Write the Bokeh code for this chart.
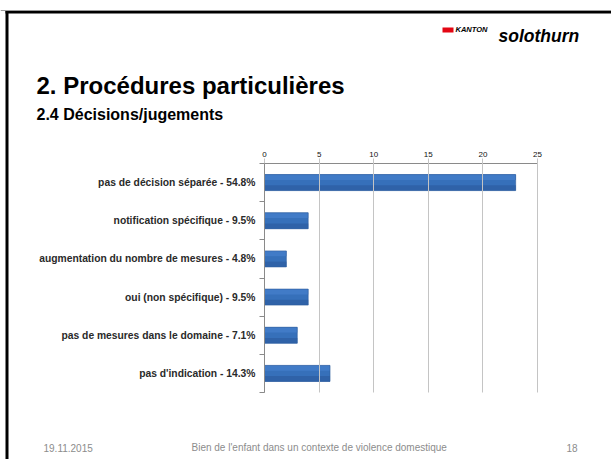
from bokeh.plotting import figure
from bokeh.models import Range1d, FixedTicker, LinearAxis, Label, BoxAnnotation
from bokeh.embed import file_html
from bokeh.resources import INLINE

# ---- data ----
categories = [
    "pas de décision séparée - 54.8%",
    "notification spécifique - 9.5%",
    "augmentation du nombre de mesures - 4.8%",
    "oui (non spécifique) - 9.5%",
    "pas de mesures dans le domaine - 7.1%",
    "pas d'indication - 14.3%",
]
counts = [23, 4, 2, 4, 3, 6]
x_ticks = [0, 5, 10, 15, 20, 25]

title_text = "2. Procédures particulières"
subtitle_text = "2.4 Décisions/jugements"
logo_small = "KANTON"
logo_big = "solothurn"
footer_date = "19.11.2015"
footer_center = "Bien de l'enfant dans un contexte de violence domestique"
footer_page = "18"

# ---- layout constants (page pixels) ----
W, H = 611, 459
FL, FT, FR, FB = 264, 163, 537, 392   # chart area on the page
XMAX = 25
N = len(categories)
FONT = "Liberation Sans"

ux = (FR - FL) / XMAX      # px per value unit
uy = (FB - FT) / N         # px per category

p = figure(width=W, height=H, output_backend="svg", toolbar_location=None,
           title=None, min_border=0,
           x_range=Range1d(-FL / ux, (W - FL) / ux),
           y_range=Range1d((H - FT) / uy, -FT / uy),
           x_axis_location=None, y_axis_location=None)
p.extra_x_ranges = {"px": Range1d(0, W)}
p.extra_y_ranges = {"px": Range1d(H, 0)}
p.grid.visible = False
p.outline_line_color = None
p.background_fill_color = "white"
p.border_fill_color = "white"


def box(l, r, t, b, color):
    p.add_layout(BoxAnnotation(left=l, right=r, top=t, bottom=b,
                               x_range_name="px", y_range_name="px",
                               fill_color=color, fill_alpha=1, line_color=None))


def label(x, y, txt, size, style="normal", color="black"):
    p.add_layout(Label(x=x, y=y, text=txt, text_font=FONT, text_font_size=size,
                       text_font_style=style, text_color=color,
                       x_range_name="px", y_range_name="px",
                       text_baseline="alphabetic"))


# ---- slide frame, logo, titles ----
box(0, W, 9.5, 10.5, "#9A9A9A")
box(5, W, 10.5, 13, "black")
box(5, 8, 10.5, H, "black")
box(442, 453, 27, 32, "#E30613")
label(455, 29, logo_small, "7.5px", "bold italic")
label(498, 35, logo_big, "17.5px", "bold italic")
label(36, 85, title_text, "24px", "bold")
label(36, 114, subtitle_text, "16px", "bold")

# ---- bars ----
ys = [i + 0.5 for i in range(N)]
BH = 0.42
p.hbar(y=ys, right=counts, left=0, height=BH, fill_color="#3670BA",
       line_color=None)
p.hbar(y=[y - BH / 3 for y in ys], right=counts, left=0, height=BH / 3,
       fill_color="#417BC7", line_color=None)
p.hbar(y=[y + BH / 3 for y in ys], right=counts, left=0, height=BH / 3,
       fill_color="#2F62A8", line_color=None)
p.hbar(y=ys, right=counts, left=0, height=BH, fill_color=None,
       line_color="#2C5A9A", line_width=0.6)

# ---- top value axis (ticks reach down as grid lines) ----
xa = LinearAxis(ticker=FixedTicker(ticks=x_ticks), fixed_location=0,
                bounds=(0, XMAX))
xa.axis_line_color = "#8A8A8A"
xa.major_tick_line_color = "#C4C4C4"
xa.major_tick_out = 5
xa.major_tick_in = FB - FT
xa.minor_tick_line_color = None
xa.major_label_text_font = FONT
xa.major_label_text_font_size = "8px"
xa.major_label_text_color = "#111111"
xa.major_label_standoff = 2
p.add_layout(xa, "above")

# ---- left category axis ----
ya = LinearAxis(ticker=FixedTicker(ticks=ys, minor_ticks=list(range(N + 1))),
                fixed_location=0, bounds=(0, N))
ya.major_label_overrides = {y: c for y, c in zip(ys, categories)}
ya.axis_line_color = "#8A8A8A"
ya.major_tick_line_color = None
ya.major_tick_out = 5
ya.major_tick_in = 0
ya.minor_tick_line_color = "#8A8A8A"
ya.minor_tick_out = 5
ya.minor_tick_in = 0
ya.major_label_text_font = FONT
ya.major_label_text_font_size = "10.3px"
ya.major_label_text_font_style = "bold"
ya.major_label_text_color = "#2A2A2A"
ya.major_label_standoff = 4
p.add_layout(ya, "left")

# ---- footer ----
label(43, 447, footer_date, "10px", color="#8C8C8C")
label(191, 447, footer_center, "10px", color="#8C8C8C")
label(566, 447, footer_page, "10px", color="#8C8C8C")

open("out.html", "w").write(file_html(p, INLINE))
